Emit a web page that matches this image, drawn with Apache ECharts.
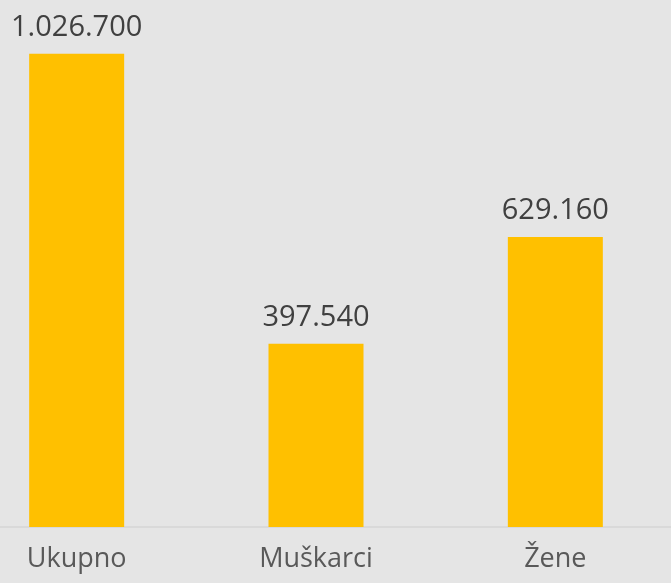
<!DOCTYPE html>
<html><head><meta charset="utf-8">
<script src="https://cdn.jsdelivr.net/npm/echarts@6/dist/echarts.min.js"></script>
<style>html,body{margin:0;padding:0;background:#e5e5e5;overflow:hidden;width:671px;height:583px;}#c{width:718px;height:583px;margin-left:-43px;}</style>
</head><body><div id="c"></div>
<script>
const categories = ['Ukupno', 'Muškarci', 'Žene'];
const values = [1026700, 397540, 629160];

function fmt(v){ return String(v).replace(/\B(?=(\d{3})+(?!\d))/g, '.'); }

const chart = echarts.init(document.getElementById('c'));
chart.setOption({
  backgroundColor: '#e5e5e5',
  animation: false,
  grid: { left: 0, right: 0, top: 20, bottom: 56, containLabel: false },
  xAxis: {
    type: 'category',
    data: categories,
    axisLine: { lineStyle: { color: '#d4d4d4', width: 1.5 } },
    axisTick: { show: false },
    axisLabel: { color: '#595959', fontSize: 27, fontFamily: 'Open Sans', margin: 19 }
  },
  yAxis: {
    type: 'value', min: 0, max: 1100000,
    show: false,
    splitLine: { show: false }
  },
  series: [{
    type: 'bar',
    data: values,
    barWidth: 95,
    itemStyle: { color: '#FFC000' },
    label: {
      show: true, position: 'top', distance: 12,
      color: '#404040', fontSize: 29, fontFamily: 'Open Sans',
      formatter: p => fmt(p.value)
    }
  }]
});
</script></body></html>
